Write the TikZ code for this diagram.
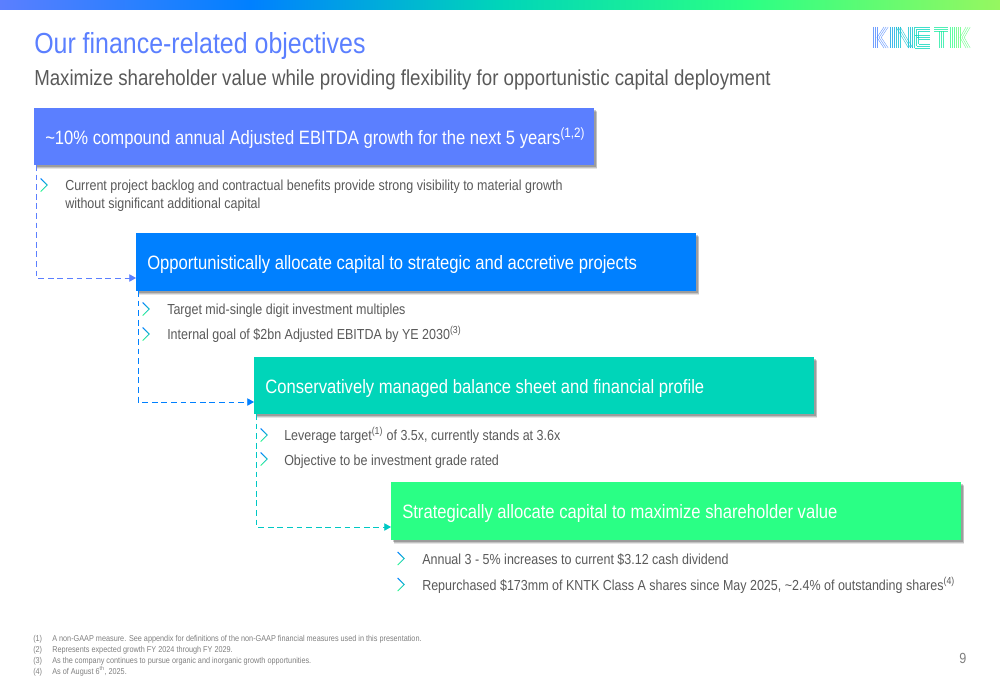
\documentclass[tikz,border=0pt]{standalone}
\usepackage{fontspec}
\setmainfont[FakeStretch=0.86]{Liberation Sans}
\usetikzlibrary{arrows.meta,shadows}
\definecolor{cA}{HTML}{5B7FFF}
\definecolor{cB}{HTML}{0080FF}
\definecolor{cC}{HTML}{00D5B9}
\definecolor{cD}{HTML}{2AFF85}
\definecolor{cE}{HTML}{96F760}
\definecolor{txt}{HTML}{595959}
\definecolor{foot}{HTML}{7F7F7F}
\tikzset{
  box/.style={anchor=north west,inner xsep=8.25pt,inner ysep=0pt,text=white,align=flush left,
    font=\fontsize{14.5}{18}\selectfont,text height=14pt,text depth=2.8pt,
    drop shadow={shadow xshift=2.4pt,shadow yshift=-2.8pt,fill=black,opacity=.1},
    drop shadow={shadow xshift=1.8pt,shadow yshift=-2.2pt,fill=black,opacity=.15},
    drop shadow={shadow xshift=1.1pt,shadow yshift=-1.4pt,fill=black,opacity=.2}},
  bul/.style={anchor=base west,inner sep=0pt,text=txt,font=\fontsize{10.9}{13.5}\selectfont,align=left},
  fn/.style={anchor=base west,inner sep=0pt,text=foot,font=\fontsize{6.35}{7}\selectfont},
  conn/.style={line width=.6pt,dash pattern=on 4.4pt off 2.8pt,-{Triangle[length=5pt,width=5.5pt]}},
  lg/.style={line width=.36pt,opacity=.75}
}
\newcommand{\chev}[2]{\shade[top color=cB,bottom color=cD,shading angle=0]
  (#1,#2-6.8)--(#1+6.8,#2)--(#1,#2+6.8)--(#1-.7,#2+6.2)--(#1+5.5,#2)--(#1-.7,#2-6.2)--cycle;}
\begin{document}
\begin{tikzpicture}[x=0.75pt,y=-0.75pt]
\useasboundingbox (0,0) rectangle (1000,685);
% top band
\shade[left color=cA,right color=cB] (0,0) rectangle (250,9.3);
\shade[left color=cB,right color=cC] (250,0) rectangle (500,9.3);
\shade[left color=cC,right color=cD] (500,0) rectangle (745,9.3);
\shade[left color=cD,right color=cE] (745,0) rectangle (1000,9.3);
% titles
\node[anchor=base west,inner sep=0pt,text=cA,font=\fontsize{21.75}{26}\selectfont] (title) at (34,54) {Our finance-related objectives};
\node[anchor=base west,inner sep=0pt,text=txt,font=\fontsize{16.3}{20}\selectfont] (subtitle) at (34,85) {Maximize shareholder value while providing flexibility for opportunistic capital deployment};
% logo
\foreach \o in {0,2.1,4.2}{
  \draw[lg,cA!70!cB] (873+\o,27)--(873+\o,48);
  \draw[lg,cA!70!cB] (884+\o,27)--(877+\o,37.5)--(884+\o,48);
  \draw[lg,cB!60!cC] (890+\o,27)--(890+\o,48);
  \draw[lg,cB!30!cC] (896+\o,27)--(896+\o,48);
  \draw[lg,cB!30!cC] (896+\o,27)--(908.5+\o,48);
  \draw[lg,cB!30!cC] (908.5+\o,27)--(908.5+\o,48);
  \draw[lg,cC] (914.5+\o,27+\o)--(914.5+\o,48-\o);
  \draw[lg,cC] (914.5+\o,27+\o)--(930,27+\o);
  \draw[lg,cC] (914.5+\o,35.4+\o)--(930,35.4+\o);
  \draw[lg,cC] (914.5+\o,48-\o)--(930,48-\o);
  \draw[lg,cC!50!cD] (934,27+\o)--(948,27+\o);
  \draw[lg,cC!50!cD] (939+\o,31.2)--(939+\o,48);
  \draw[lg,cD] (950+\o,27)--(950+\o,48);
  \draw[lg,cD!60!cE] (956+\o,27)--(956+\o,48);
  \draw[lg,cD!60!cE] (966+\o,27)--(960+\o,37.5)--(966+\o,48);
}
% boxes
\node[box,fill=cA,minimum width=420pt,minimum height=42.75pt,text width=403.5pt] (a) at (34,108) {\makebox[0pt][l]{\textasciitilde10\% compound annual Adjusted EBITDA growth for the next 5 years\textsuperscript{(1,2)}}};
\node[box,fill=cB,minimum width=420pt,minimum height=43.5pt,text width=403.5pt] (b) at (136,233) {Opportunistically allocate capital to strategic and accretive projects};
\node[box,fill=cC,minimum width=420pt,minimum height=42.75pt,text width=403.5pt] (c) at (254,357) {Conservatively managed balance sheet and financial profile};
\node[box,fill=cD,minimum width=427.5pt,minimum height=43.5pt,text width=411pt] (d) at (391,482) {Strategically allocate capital to maximize shareholder value};
% connector entry points
\coordinate (a-out) at (36,165);
\coordinate (b-in) at (136,278);
\coordinate (b-out) at (138,291);
\coordinate (c-in) at (254,402);
\coordinate (c-out) at (256,414);
\coordinate (d-in) at (391,527);
\draw[conn,cA] (a-out) |- (b-in);
\draw[conn,cB] (b-out) |- (c-in);
\draw[conn,cC!85!cB] (c-out) |- (d-in);
% bullets
\chev{41}{185}
\node[bul] (b1) at (65,190) {Current project backlog and contractual benefits provide strong visibility to material growth};
\node[bul] (b1b) at (65,208) {without significant additional capital};
\chev{143}{309}
\node[bul] (b2) at (167,314) {Target mid-single digit investment multiples};
\chev{143}{334}
\node[bul] (b3) at (167,339) {Internal goal of \$2bn Adjusted EBITDA by YE 2030\textsuperscript{(3)}};
\chev{261}{435}
\node[bul] (b4) at (284,440) {Leverage target\textsuperscript{(1)} of 3.5x, currently stands at 3.6x};
\chev{261}{459}
\node[bul] (b5) at (284,465) {Objective to be investment grade rated};
\chev{398}{558.5}
\node[bul] (b6) at (422,564) {Annual 3 - 5\% increases to current \$3.12 cash dividend};
\chev{398}{584.5}
\node[bul] (b7) at (422,590) {Repurchased \$173mm of KNTK Class A shares since May 2025, \textasciitilde2.4\% of outstanding shares\textsuperscript{(4)}};
% footnotes
\node[fn] (n1) at (33,641) {(1)};
\node[fn] (t1) at (52,641) {A non-GAAP measure. See appendix for definitions of the non-GAAP financial measures used in this presentation.};
\node[fn] (n2) at (33,652) {(2)};
\node[fn] (t2) at (52,652) {Represents expected growth FY 2024 through FY 2029.};
\node[fn] (n3) at (33,663) {(3)};
\node[fn] (t3) at (52,663) {As the company continues to pursue organic and inorganic growth opportunities.};
\node[fn] (n4) at (33,674) {(4)};
\node[fn] (t4) at (52,674) {As of August 6\textsuperscript{th}, 2025.};
\node[anchor=base west,inner sep=0pt,text=foot,font=\fontsize{11}{13}\selectfont] (page) at (959,663) {9};
\end{tikzpicture}
\end{document}
